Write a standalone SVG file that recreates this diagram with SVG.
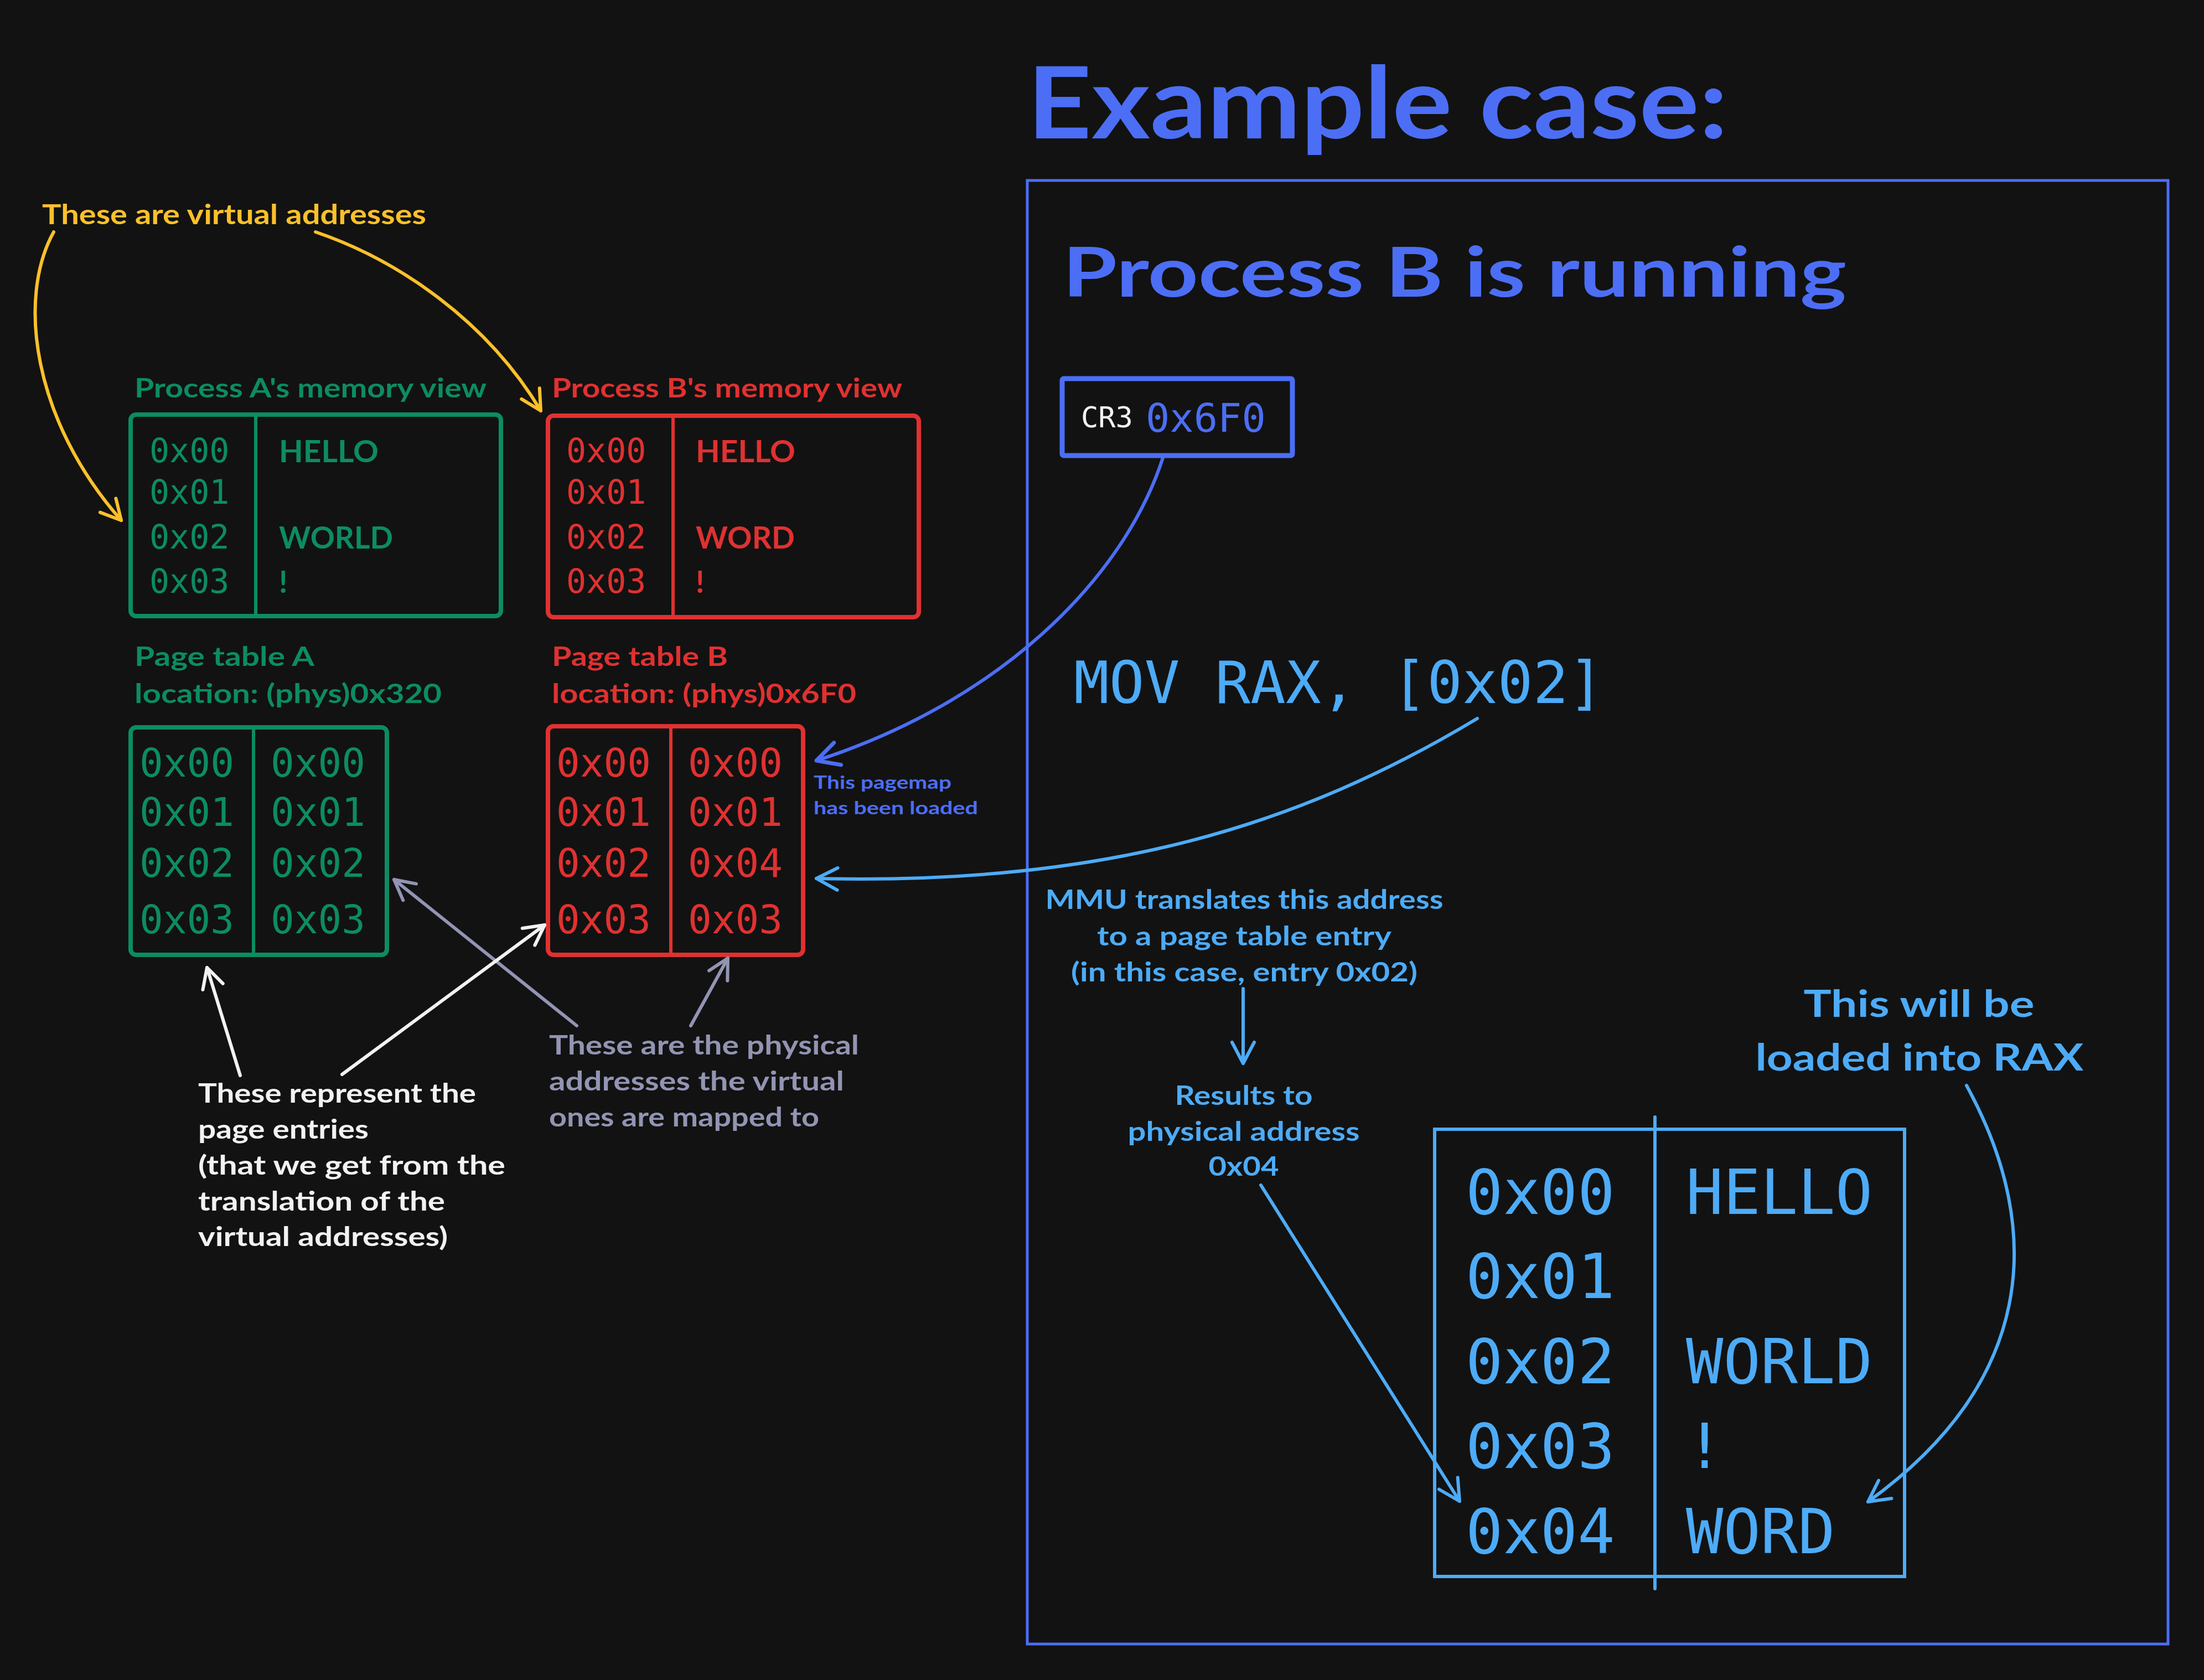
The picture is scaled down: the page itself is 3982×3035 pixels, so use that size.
<svg xmlns="http://www.w3.org/2000/svg" width="3982" height="3035" viewBox="0 0 3982 3035">
<style>
.hand{font-family:Lato,"Open Sans","Liberation Sans",sans-serif;font-weight:700}
.mono{font-family:"DejaVu Sans Mono","Liberation Mono",monospace}
.h48{font-size:48px}
.g{fill:#0c8c63}.r{fill:#e03131}.y{fill:#fcc02b}.b{fill:#4c6ef5}.lb{fill:#4dabf7}.gr{fill:#9294b3}.w{fill:#f2f2f2}
.box{fill:none;stroke-width:8}
.conn{fill:none;stroke-width:6;stroke-linecap:round;stroke-linejoin:round}
</style>
<defs>
<marker id="ah-y" markerUnits="userSpaceOnUse" orient="auto" style="overflow:visible" markerWidth="1" markerHeight="1"><path d="M-36,-19 L0,0 L-36,19" fill="none" stroke="#fcc02b" stroke-width="6" stroke-linecap="round" stroke-linejoin="round"/></marker>
<marker id="ah-b" markerUnits="userSpaceOnUse" orient="auto" style="overflow:visible" markerWidth="1" markerHeight="1"><path d="M-40,-21 L0,0 L-40,21" fill="none" stroke="#4c6ef5" stroke-width="7" stroke-linecap="round" stroke-linejoin="round"/></marker>
<marker id="ah-lb" markerUnits="userSpaceOnUse" orient="auto" style="overflow:visible" markerWidth="1" markerHeight="1"><path d="M-38,-20 L0,0 L-38,20" fill="none" stroke="#4dabf7" stroke-width="6" stroke-linecap="round" stroke-linejoin="round"/></marker>
<marker id="ah-gr" markerUnits="userSpaceOnUse" orient="auto" style="overflow:visible" markerWidth="1" markerHeight="1"><path d="M-36,-19 L0,0 L-36,19" fill="none" stroke="#9294b3" stroke-width="6" stroke-linecap="round" stroke-linejoin="round"/></marker>
<marker id="ah-w" markerUnits="userSpaceOnUse" orient="auto" style="overflow:visible" markerWidth="1" markerHeight="1"><path d="M-36,-19 L0,0 L-36,19" fill="none" stroke="#f2f2f2" stroke-width="6" stroke-linecap="round" stroke-linejoin="round"/></marker>
</defs>
<rect width="3982" height="3035" fill="#121212"/>

<g id="label-virtual">
<text class="hand y" x="76" y="405" font-size="50" textLength="694" lengthAdjust="spacingAndGlyphs">These are virtual addresses</text>
</g>

<g id="mem-a">
<text class="hand g h48" x="243" y="718" textLength="636" lengthAdjust="spacingAndGlyphs">Process A's memory view</text>
<rect class="box" x="236" y="749" width="669" height="364" rx="10" stroke="#0c8c63"/>
<line x1="462" y1="749" x2="462" y2="1113" stroke="#0c8c63" stroke-width="6"/>
<g class="mono g" font-size="60">
<text x="270" y="835">0x00</text><text x="270" y="910">0x01</text><text x="270" y="991">0x02</text><text x="270" y="1071">0x03</text>
</g>
<g class="hand g" font-size="55">
<text x="504" y="835" textLength="180" lengthAdjust="spacingAndGlyphs">HELLO</text>
<text x="504" y="991" textLength="206" lengthAdjust="spacingAndGlyphs">WORLD</text>
<text x="504" y="1071">!</text>
</g>
</g>

<g id="mem-b">
<text class="hand r h48" x="997" y="718" textLength="633" lengthAdjust="spacingAndGlyphs">Process B's memory view</text>
<rect class="box" x="990" y="751" width="670" height="364" rx="10" stroke="#e03131"/>
<line x1="1216" y1="751" x2="1216" y2="1115" stroke="#e03131" stroke-width="6"/>
<g class="mono r" font-size="60">
<text x="1023" y="835">0x00</text><text x="1023" y="910">0x01</text><text x="1023" y="991">0x02</text><text x="1023" y="1071">0x03</text>
</g>
<g class="hand r" font-size="55">
<text x="1257" y="835" textLength="180" lengthAdjust="spacingAndGlyphs">HELLO</text>
<text x="1257" y="991" textLength="179" lengthAdjust="spacingAndGlyphs">WORD</text>
<text x="1257" y="1071">!</text>
</g>
</g>

<g id="pt-a">
<text class="hand g h48" x="243" y="1203" textLength="325" lengthAdjust="spacingAndGlyphs">Page table A</text>
<text class="hand g h48" x="243" y="1270" textLength="555" lengthAdjust="spacingAndGlyphs">location: (phys)0x320</text>
<rect class="box" x="236" y="1314" width="463" height="411" rx="10" stroke="#0c8c63"/>
<line x1="458" y1="1314" x2="458" y2="1725" stroke="#0c8c63" stroke-width="6"/>
<g class="mono g" font-size="71">
<text x="252" y="1403">0x00</text><text x="252" y="1492">0x01</text><text x="252" y="1584">0x02</text><text x="252" y="1686">0x03</text>
<text x="489" y="1403">0x00</text><text x="489" y="1492">0x01</text><text x="489" y="1584">0x02</text><text x="489" y="1686">0x03</text>
</g>
</g>

<g id="pt-b">
<text class="hand r h48" x="997" y="1203" textLength="318" lengthAdjust="spacingAndGlyphs">Page table B</text>
<text class="hand r h48" x="997" y="1270" textLength="550" lengthAdjust="spacingAndGlyphs">location: (phys)0x6F0</text>
<rect class="box" x="990" y="1312" width="461" height="413" rx="10" stroke="#e03131"/>
<line x1="1212" y1="1312" x2="1212" y2="1725" stroke="#e03131" stroke-width="6"/>
<g class="mono r" font-size="71">
<text x="1005" y="1403">0x00</text><text x="1005" y="1492">0x01</text><text x="1005" y="1584">0x02</text><text x="1005" y="1686">0x03</text>
<text x="1243" y="1403">0x00</text><text x="1243" y="1492">0x01</text><text x="1243" y="1584">0x04</text><text x="1243" y="1686">0x03</text>
</g>
</g>

<g id="label-pagemap">
<text class="hand b" x="1470" y="1425" font-size="32" textLength="249" lengthAdjust="spacingAndGlyphs">This pagemap</text>
<text class="hand b" x="1470" y="1471" font-size="32" textLength="297" lengthAdjust="spacingAndGlyphs">has been loaded</text>
</g>

<g id="label-physical">
<text class="hand gr h48" x="992" y="1905" textLength="560" lengthAdjust="spacingAndGlyphs">These are the physical</text>
<text class="hand gr h48" x="992" y="1970" textLength="533" lengthAdjust="spacingAndGlyphs">addresses the virtual</text>
<text class="hand gr h48" x="992" y="2035" textLength="488" lengthAdjust="spacingAndGlyphs">ones are mapped to</text>
</g>

<g id="label-entries">
<text class="hand w h48" x="358" y="1992" textLength="502" lengthAdjust="spacingAndGlyphs">These represent the</text>
<text class="hand w h48" x="358" y="2057" textLength="308" lengthAdjust="spacingAndGlyphs">page entries</text>
<text class="hand w h48" x="358" y="2122" textLength="555" lengthAdjust="spacingAndGlyphs">(that we get from the</text>
<text class="hand w h48" x="358" y="2187" textLength="446" lengthAdjust="spacingAndGlyphs">translation of the</text>
<text class="hand w h48" x="358" y="2251" textLength="451" lengthAdjust="spacingAndGlyphs">virtual addresses)</text>
</g>

<g id="title-example">
<text class="hand b" x="1856" y="250" font-size="180" textLength="1266" lengthAdjust="spacingAndGlyphs">Example case:</text>
</g>

<g id="frame-example">
<rect x="1856" y="326" width="2061" height="2644" fill="none" stroke="#4c6ef5" stroke-width="5"/>
<text class="hand b" x="1920" y="536" font-size="125" textLength="1416" lengthAdjust="spacingAndGlyphs">Process B is running</text>
</g>

<g id="cr3">
<rect x="1919" y="684" width="416" height="139" rx="3" fill="none" stroke="#4c6ef5" stroke-width="9"/>
<text class="mono w" x="1953" y="772" font-size="52">CR3</text>
<text class="mono b" x="2070" y="780" font-size="72">0x6F0</text>
</g>

<g id="instr">
<text class="mono lb" x="1940" y="1270" font-size="106">MOV RAX, [0x02]</text>
</g>

<g id="label-mmu">
<text class="hand lb h48" x="2248" y="1642" text-anchor="middle" textLength="719" lengthAdjust="spacingAndGlyphs">MMU translates this address</text>
<text class="hand lb h48" x="2248" y="1708" text-anchor="middle" textLength="532" lengthAdjust="spacingAndGlyphs">to a page table entry</text>
<text class="hand lb h48" x="2248" y="1773" text-anchor="middle" textLength="626" lengthAdjust="spacingAndGlyphs">(in this case, entry 0x02)</text>
</g>

<g id="label-results">
<text class="hand lb h48" x="2247" y="1996" text-anchor="middle" textLength="249" lengthAdjust="spacingAndGlyphs">Results to</text>
<text class="hand lb h48" x="2247" y="2061" text-anchor="middle" textLength="419" lengthAdjust="spacingAndGlyphs">physical address</text>
<text class="hand lb h48" x="2247" y="2124" text-anchor="middle" textLength="127" lengthAdjust="spacingAndGlyphs">0x04</text>
</g>

<g id="label-rax">
<text class="hand lb" x="3467" y="1837" font-size="66" text-anchor="middle" textLength="417" lengthAdjust="spacingAndGlyphs">This will be</text>
<text class="hand lb" x="3468" y="1934" font-size="66" text-anchor="middle" textLength="593" lengthAdjust="spacingAndGlyphs">loaded into RAX</text>
</g>

<g id="phys-mem">
<rect x="2592" y="2040" width="849" height="808" fill="none" stroke="#4dabf7" stroke-width="6"/>
<line x1="2990" y1="2018" x2="2990" y2="2870" stroke="#4dabf7" stroke-width="6" stroke-linecap="round"/>
<g class="mono lb" font-size="112">
<text x="2648" y="2193">0x00</text><text x="2648" y="2345">0x01</text><text x="2648" y="2499">0x02</text><text x="2648" y="2652">0x03</text><text x="2648" y="2806">0x04</text>
<text x="3046" y="2193">HELLO</text><text x="3046" y="2499">WORLD</text><text x="3046" y="2652">!</text><text x="3046" y="2806">WORD</text>
</g>
</g>

<g id="connectors">
<path class="conn" stroke="#fcc02b" d="M97,419 C30,540 60,760 219,940" marker-end="url(#ah-y)"/>
<path class="conn" stroke="#fcc02b" d="M570,419 C720,470 880,580 977,742" marker-end="url(#ah-y)"/>
<path class="conn" stroke="#4c6ef5" stroke-width="7" d="M2102,824 C2030,1050 1800,1270 1475,1374" marker-end="url(#ah-b)"/>
<path class="conn" stroke="#4dabf7" d="M2669,1298 C2350,1490 2000,1600 1475,1587" marker-end="url(#ah-lb)"/>
<path class="conn" stroke="#4dabf7" d="M2246,1786 L2246,1921" marker-end="url(#ah-lb)"/>
<path class="conn" stroke="#4dabf7" d="M2278,2141 L2637,2712" marker-end="url(#ah-lb)"/>
<path class="conn" stroke="#4dabf7" d="M3553,1961 C3700,2230 3670,2500 3375,2713" marker-end="url(#ah-lb)"/>
<path class="conn" stroke="#9294b3" d="M1042,1853 L712,1589" marker-end="url(#ah-gr)"/>
<path class="conn" stroke="#9294b3" d="M1248,1853 L1315,1731" marker-end="url(#ah-gr)"/>
<path class="conn" stroke="#f2f2f2" d="M434,1943 L374,1748" marker-end="url(#ah-w)"/>
<path class="conn" stroke="#f2f2f2" d="M618,1941 L984,1671" marker-end="url(#ah-w)"/>
</g>
</svg>
